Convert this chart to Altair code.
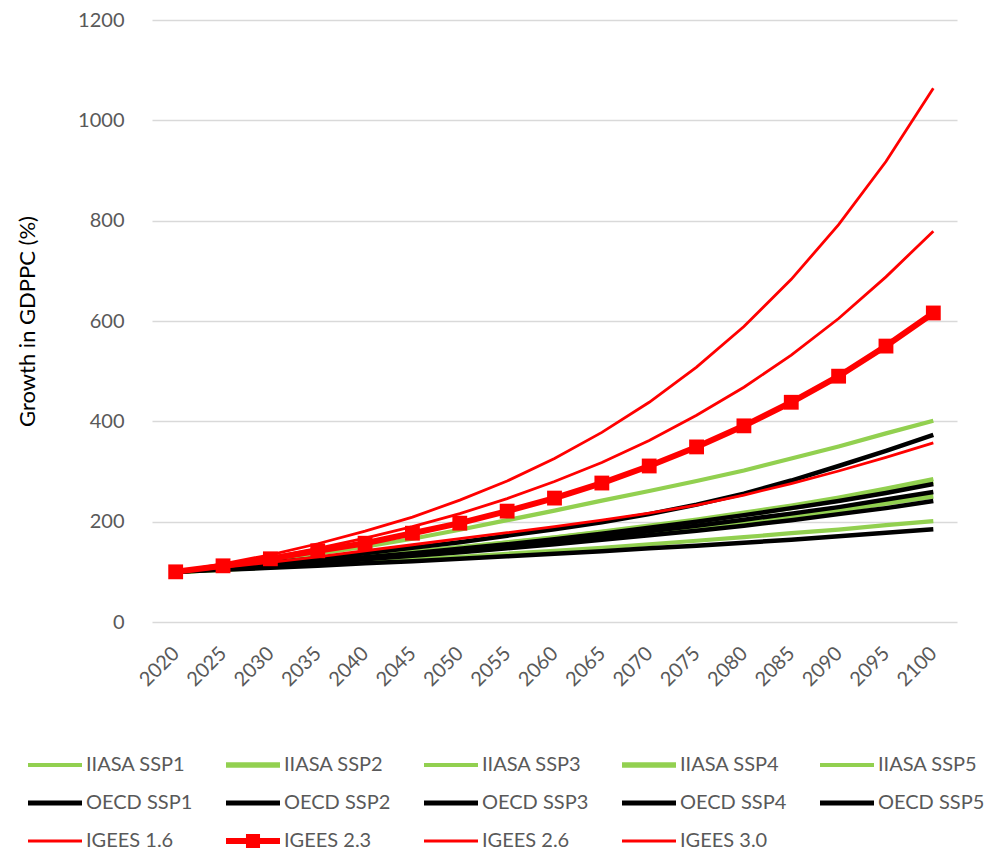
import altair as alt
import pandas as pd

years = [str(y) for y in range(2020, 2101, 5)]

series_names = [
    "IIASA SSP1", "IIASA SSP2", "IIASA SSP3", "IIASA SSP4", "IIASA SSP5",
    "OECD SSP1", "OECD SSP2", "OECD SSP3", "OECD SSP4", "OECD SSP5",
    "IGEES 1.6", "IGEES 2.3", "IGEES 2.6", "IGEES 3.0",
]

iiasa_ssp1 = [100, 107, 115, 123, 131, 140, 149, 159, 169, 180, 192, 204, 218, 232, 248, 266, 285]
iiasa_ssp2 = [100, 107, 114, 122, 130, 139, 148, 157, 167, 178, 189, 201, 214, 228, 244, 261, 280]
iiasa_ssp3 = [100, 104, 109, 114, 119, 125, 130, 136, 142, 148, 155, 162, 169, 177, 184, 193, 201]
iiasa_ssp4 = [100, 106, 112, 119, 126, 133, 141, 149, 158, 168, 177, 188, 199, 211, 223, 237, 251]
iiasa_ssp5 = [100, 111, 123, 136, 150, 166, 184, 203, 222, 242, 261, 281, 302, 326, 350, 376, 401]

oecd_ssp1 = [100, 107, 113, 121, 129, 137, 146, 155, 165, 176, 188, 200, 213, 227, 241, 257, 275]
oecd_ssp2 = [100, 106, 113, 119, 127, 134, 142, 151, 161, 170, 181, 192, 204, 216, 229, 244, 259]
oecd_ssp3 = [100, 104, 108, 112, 117, 121, 126, 131, 136, 141, 147, 152, 158, 164, 171, 178, 185]
oecd_ssp4 = [100, 106, 112, 118, 125, 132, 139, 147, 155, 164, 173, 182, 192, 203, 215, 227, 241]
oecd_ssp5 = [100, 109, 118, 127, 137, 148, 159, 172, 185, 199, 215, 234, 256, 282, 311, 341, 373]

igees_16 = [100, 109, 119, 130, 142, 154, 166, 178, 190, 203, 217, 233, 253, 276, 301, 328, 357]
igees_23 = [100, 112, 126, 142, 157, 177, 197, 221, 247, 277, 311, 349, 391, 438, 490, 550, 616]
igees_26 = [100, 114, 129, 147, 167, 190, 216, 246, 280, 318, 362, 412, 468, 532, 605, 688, 779]
igees_30 = [100, 116, 134, 156, 181, 209, 243, 281, 326, 378, 438, 508, 589, 683, 792, 918, 1064]

all_series = [
    iiasa_ssp1, iiasa_ssp2, iiasa_ssp3, iiasa_ssp4, iiasa_ssp5,
    oecd_ssp1, oecd_ssp2, oecd_ssp3, oecd_ssp4, oecd_ssp5,
    igees_16, igees_23, igees_26, igees_30,
]

rows = []
for name, vals in zip(series_names, all_series):
    for yr, v in zip(years, vals):
        rows.append({"year": yr, "value": v, "series": name, "group": name.split(" ")[0]})
df = pd.DataFrame(rows)

GREEN = "#92d050"
colors = [GREEN] * 5 + ["#000000"] * 5 + ["#ff0000"] * 4
widths = [4.2, 5.5, 4.2, 5.5, 4.2, 4.5, 4.5, 4.5, 4.5, 4.5, 2.8, 6, 2.8, 2.8]

def bar(h):
    return f"M-1,-{h}H1V{h}H-1Z"

legend_paths = [
    bar(0.075), bar(0.1), bar(0.075), bar(0.1), bar(0.075),
    bar(0.09), bar(0.09), bar(0.09), bar(0.09), bar(0.09),
    bar(0.06), bar(0.11) + " M-0.26,-0.26H0.26V0.26H-0.26Z", bar(0.06), bar(0.06),
]

color_scale = alt.Scale(domain=series_names, range=colors)
width_scale = alt.Scale(type="ordinal", domain=series_names, range=widths)
shape_scale = alt.Scale(domain=series_names, range=legend_paths)

FONT = "Lato"

x_enc = alt.X(
    "year:O", sort=years, title=None,
    scale=alt.Scale(type="point", padding=0.5),
    axis=alt.Axis(labelAngle=315, labelAlign="right", labelBaseline="middle",
                  labelPadding=28, labelFontSize=20, labelColor="#595959",
                  labelFont=FONT, ticks=False, domain=False, grid=False),
)
y_enc = alt.Y(
    "value:Q", title="Growth in GDPPC (%)",
    scale=alt.Scale(domain=[0, 1200], nice=False),
    axis=alt.Axis(values=[0, 200, 400, 600, 800, 1000, 1200], format="d",
                  labelFontSize=20, labelColor="#595959", labelFont=FONT,
                  labelPadding=28, ticks=False, domain=False, grid=True,
                  gridColor="#d9d9d9", gridWidth=1.3, titleFont=FONT,
                  titleFontSize=22, titleFontWeight="normal", titleColor="#000000",
                  titlePadding=38),
)

base = alt.Chart(df).encode(x=x_enc, y=y_enc)

def line_layer(group):
    return base.transform_filter(alt.datum.group == group).mark_line().encode(
        color=alt.Color("series:N", scale=color_scale, legend=None),
        strokeWidth=alt.StrokeWidth("series:N", scale=width_scale, legend=None),
        detail="series:N",
    )

markers = base.transform_filter(alt.datum.series == "IGEES 2.3").mark_point(
    shape="square", filled=True, size=220, color="#ff0000", opacity=1
)

legend_spec = dict(
    title=None, orient="none", legendX=-124, legendY=718, direction="horizontal",
    columns=5, symbolSize=2916, labelFont=FONT, labelFontSize=20,
    labelColor="#595959", labelOffset=4, columnPadding=33, rowPadding=1,
    symbolStrokeWidth=0,
)

legend_layer = base.transform_filter(alt.datum.value > 100000).mark_point(
    filled=True, opacity=1
).encode(
    color=alt.Color("series:N", scale=color_scale, legend=alt.Legend(**legend_spec)),
    shape=alt.Shape("series:N", scale=shape_scale, legend=alt.Legend(**legend_spec)),
)

chart = alt.layer(
    line_layer("IIASA"), line_layer("OECD"), line_layer("IGEES"), markers, legend_layer
).resolve_legend(
    color="independent", shape="independent", strokeWidth="independent"
).properties(
    width=805, height=602, autosize="none",
    padding={"left": 144, "top": 12, "right": 31, "bottom": 228},
).configure(font=FONT).configure_view(stroke=None)

chart.save("out.html", embed_options={"renderer": "svg", "actions": False})
